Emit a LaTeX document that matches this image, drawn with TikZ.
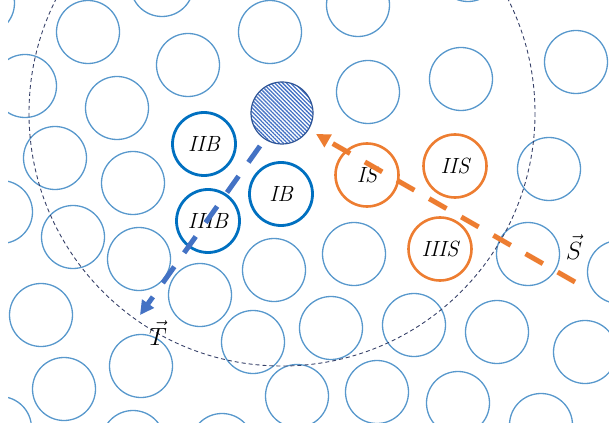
\documentclass[tikz,border=0pt]{standalone}
\usetikzlibrary{arrows.meta,patterns.meta}
\definecolor{grainblue}{RGB}{88,152,204}
\definecolor{boldblue}{RGB}{0,112,192}
\definecolor{grainorange}{RGB}{237,125,49}
\definecolor{vecblue}{RGB}{68,114,196}
\definecolor{hatchblue}{RGB}{68,114,196}
\definecolor{hatchedge}{RGB}{47,85,151}
\definecolor{zonenavy}{RGB}{55,65,105}
\tikzset{
  grain/.style={circle, minimum size=63pt, inner sep=0pt, draw=grainblue, line width=1.3pt},
  bgrain/.style={circle, minimum size=63pt, inner sep=0pt, draw=boldblue, line width=2.8pt,
    font=\fontsize{22}{24}\selectfont\itshape},
  sgrain/.style={circle, minimum size=63pt, inner sep=0pt, draw=grainorange, line width=2.6pt,
    font=\fontsize{22}{24}\selectfont\itshape},
  source/.style={circle, minimum size=62pt, inner sep=0pt, draw=hatchedge, line width=1.2pt,
    pattern={Lines[angle=-45,distance=2.8pt,line width=1.3pt]}, pattern color=hatchblue},
  zone/.style={draw=zonenavy, line width=0.9pt, dash pattern=on 4pt off 3pt},
  vecarrow/.style={line width=5pt, dash pattern=on 20pt off 17pt,
    -{Triangle[length=14pt,width=14pt]}},
  veclabel/.style={font=\fontsize{28}{30}\selectfont, inner sep=0pt}
}
\begin{document}
\begin{tikzpicture}[x=1pt,y=-1pt]
\useasboundingbox (0,0) rectangle (609,430);
% background grains and the dashed zone, cut to the frame
\begin{scope}
\clip (8,0) rectangle (609,422);
\foreach \gx/\gy [count=\i] in {
  -17/3, 88/32, 162/-15, 188/65, 270/32, 358/5, 468/-30, 576/62, 461/79, 368/92,
  549/169, 25/86, 117/108, 55/158, 133/183, 1/212, 73/237, 139/259, 200/295,
  41/315, 141/366, 64/389, 0/428, 133/442, 222/445, 274/270, 354/254, 253/342,
  331/328, 297/396, 377/392, 414/325, 528/254, 619/272, 497/332, 585/352,
  458/403, 541/425}
  \node[grain] (g\i) at (\gx,\gy) {};
\node[source] (src) at (282,113) {};
\draw[zone] (src.center) circle (253);
\end{scope}
% labelled grains
\node[bgrain] (IIB) at (204,144) {IIB};
\node[bgrain] (IB) at (281,194) {IB};
\node[bgrain] (IIIB) at (208,221) {IIIB};
\node[sgrain] (IS) at (367,175) {IS};
\node[sgrain] (IIS) at (455,166) {IIS};
\node[sgrain] (IIIS) at (440,249) {IIIS};
% direction vectors
\coordinate (Tstart) at (260,146);
\coordinate (Tend) at (140,315);
\coordinate (Sstart) at (575,282);
\coordinate (Send) at (316,134);
\draw[vecarrow, draw=vecblue] (Tstart) -- (Tend);
\draw[vecarrow, draw=grainorange] (Sstart) -- (Send);
\node[veclabel] (T) at (158,333) {$\vec{T}$};
\node[veclabel] (S) at (574,247) {$\vec{S}$};
\end{tikzpicture}
\end{document}
